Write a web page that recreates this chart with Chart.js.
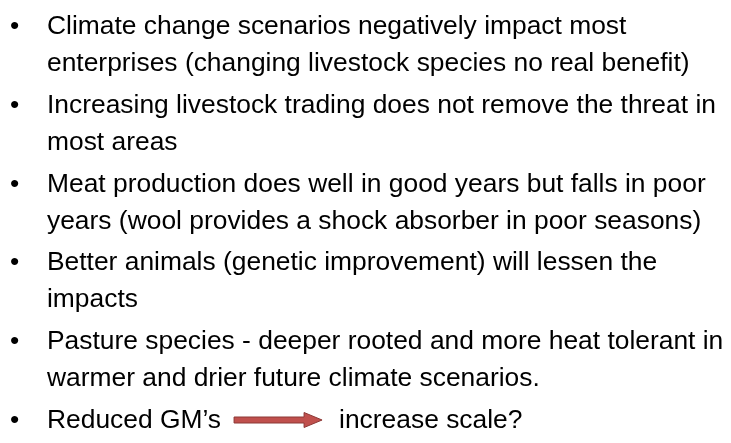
<!DOCTYPE html>
<html><head><meta charset="utf-8">
<script src="https://cdn.jsdelivr.net/npm/chart.js@4/dist/chart.umd.min.js"></script>
<style>html,body{margin:0;padding:0;background:#fff;overflow:hidden}#wrap{position:relative;width:731px;height:443px}</style>
</head><body><div id="wrap"><canvas id="c"></canvas></div>
<script>
// Slide content (text only – this slide has no numeric series)
const bulletLines = [
  ["Climate change scenarios negatively impact most", "enterprises (changing livestock species no real benefit)"],
  ["Increasing livestock trading does not remove the threat in", "most areas"],
  ["Meat production does well in good years but falls in poor", "years (wool provides a shock absorber in poor seasons)"],
  ["Better animals (genetic improvement) will lessen the", "impacts"],
  ["Pasture species - deeper rooted and more heat tolerant in", "warmer and drier future climate scenarios."]
];
const lastBulletFrom = "Reduced GM\u2019s";
const lastBulletTo = "increase scale?";

// Layout (positions/styles kept separate from content)
const FONT = '26.4px "Liberation Sans", Arial, sans-serif';
const layout = { bulletX: 10, textX: 47, firstBaseline: 34, linePitch: 37, bulletGap: 41.8 };
const arrowStyle = { gapBefore: 13, length: 88, headLen: 18, shaftHalf: 3, headHalf: 7.5, gapAfter: 17, fill: '#C0504D', stroke: '#8C3836' };

const slidePlugin = {
  id: 'slideText',
  afterDraw(chart) {
    const ctx = chart.ctx, xs = chart.scales.x, ys = chart.scales.y;
    ctx.save();
    ctx.font = FONT;
    ctx.fillStyle = '#000';
    ctx.textBaseline = 'alphabetic';
    ctx.textAlign = 'left';
    let base = layout.firstBaseline;
    const drawBullet = (b) => ctx.fillText('\u2022', xs.getPixelForValue(layout.bulletX), ys.getPixelForValue(b));
    bulletLines.forEach((lines, bi) => {
      drawBullet(base);
      lines.forEach((ln, li) => {
        ctx.fillText(ln, xs.getPixelForValue(layout.textX), ys.getPixelForValue(base));
        if (li < lines.length - 1) base += layout.linePitch;
      });
      base += layout.linePitch + (layout.bulletGap - layout.linePitch);
    });
    // last bullet with arrow
    drawBullet(base);
    const tx = xs.getPixelForValue(layout.textX), by = ys.getPixelForValue(base);
    ctx.fillText(lastBulletFrom, tx, by);
    const w = ctx.measureText(lastBulletFrom).width;
    const ax0 = tx + w + arrowStyle.gapBefore, ax1 = ax0 + arrowStyle.length;
    const ay = by - 8;
    const hx = ax1 - arrowStyle.headLen;
    ctx.beginPath();
    ctx.moveTo(ax0, ay - arrowStyle.shaftHalf);
    ctx.lineTo(hx, ay - arrowStyle.shaftHalf);
    ctx.lineTo(hx, ay - arrowStyle.headHalf);
    ctx.lineTo(ax1, ay);
    ctx.lineTo(hx, ay + arrowStyle.headHalf);
    ctx.lineTo(hx, ay + arrowStyle.shaftHalf);
    ctx.lineTo(ax0, ay + arrowStyle.shaftHalf);
    ctx.closePath();
    ctx.fillStyle = arrowStyle.fill;
    ctx.fill();
    ctx.lineWidth = 1;
    ctx.strokeStyle = arrowStyle.stroke;
    ctx.stroke();
    ctx.fillStyle = '#000';
    ctx.fillText(lastBulletTo, ax1 + arrowStyle.gapAfter, by);
    ctx.restore();
  }
};

new Chart(document.getElementById('c'), {
  type: 'scatter',
  data: { datasets: [{ data: [] }] },
  options: {
    responsive: true,
    maintainAspectRatio: false,
    devicePixelRatio: 1,
    animation: false,
    layout: { padding: 0 },
    plugins: { legend: { display: false }, tooltip: { enabled: false } },
    scales: {
      x: { type: 'linear', min: 0, max: 731, display: false },
      y: { type: 'linear', min: 0, max: 443, reverse: true, display: false }
    }
  },
  plugins: [slidePlugin]
});
</script>
</body></html>
